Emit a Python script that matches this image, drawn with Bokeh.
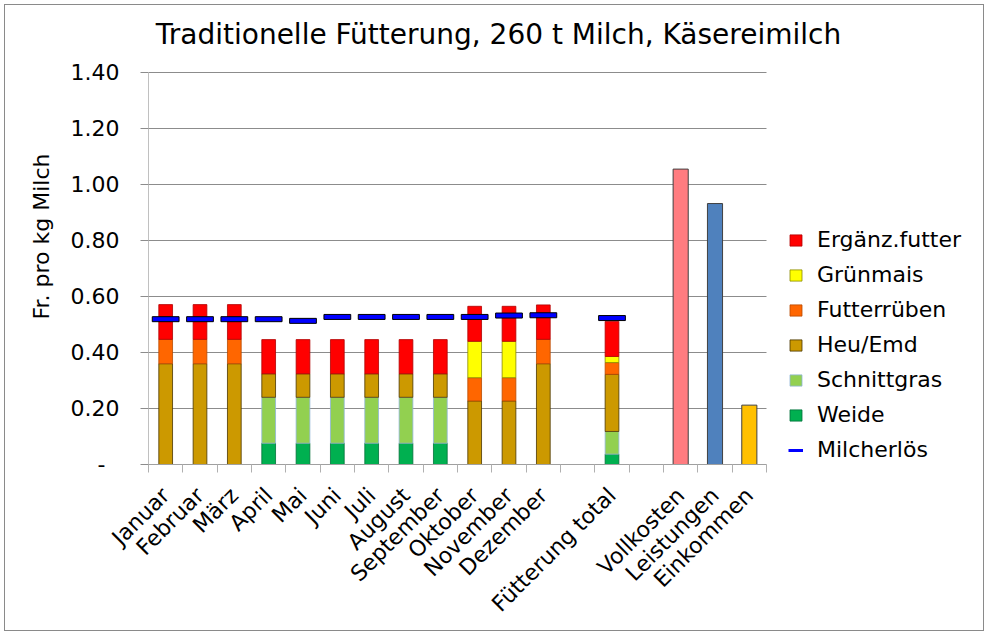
import math
from bokeh.plotting import figure
from bokeh.models import (ColumnDataSource, FixedTicker, CustomJSTickFormatter,
                          Legend, LegendItem, Range1d, Label)
from bokeh.embed import file_html
from bokeh.resources import INLINE

# ---------------- data ----------------
title_text = "Traditionelle Fütterung, 260 t Milch, Käsereimilch"
categories = ["Januar", "Februar", "März", "April", "Mai", "Juni", "Juli",
              "August", "September", "Oktober", "November", "Dezember", "",
              "Fütterung total", "", "Vollkosten", "Leistungen", "Einkommen"]

weide        = [0, 0, 0, 0.076, 0.076, 0.076, 0.076, 0.076, 0.076, 0, 0, 0, 0, 0.037, 0, 0, 0, 0]
schnittgras  = [0, 0, 0, 0.164, 0.164, 0.164, 0.164, 0.164, 0.164, 0, 0, 0, 0, 0.081, 0, 0, 0, 0]
heu_emd      = [0.360, 0.360, 0.360, 0.084, 0.084, 0.084, 0.084, 0.084, 0.084, 0.227, 0.227, 0.360, 0, 0.204, 0, 0, 0, 0]
futterrueben = [0.087, 0.087, 0.087, 0, 0, 0, 0, 0, 0, 0.083, 0.083, 0.087, 0, 0.042, 0, 0, 0, 0]
gruenmais    = [0, 0, 0, 0, 0, 0, 0, 0, 0, 0.130, 0.130, 0, 0, 0.022, 0, 0, 0, 0]
ergaenz      = [0.124, 0.124, 0.124, 0.122, 0.122, 0.122, 0.122, 0.122, 0.122, 0.125, 0.125, 0.123, 0, 0.125, 0, 0, 0, 0]

vollkosten   = [0] * 15 + [1.055, 0, 0]
leistungen   = [0] * 16 + [0.932, 0]
einkommen    = [0] * 17 + [0.212]

milcherloes  = [0.519, 0.519, 0.519, 0.519, 0.513, 0.527, 0.527, 0.527, 0.527,
                0.527, 0.532, 0.533, None, 0.523, None, None, None, None]

y_ticks = [0, 0.2, 0.4, 0.6, 0.8, 1.0, 1.2, 1.4]

stack_series = [
    ("Weide", weide, "#00B050", "#00703a"),
    ("Schnittgras", schnittgras, "#92D050", "#8fb4d8"),
    ("Heu/Emd", heu_emd, "#CC9900", "#4a3600"),
    ("Futterrüben", futterrueben, "#FF6600", "#b84a00"),
    ("Grünmais", gruenmais, "#FFFF00", "#8a8a00"),
    ("Ergänz.futter", ergaenz, "#FF0000", "#b00000"),
]
single_series = [
    (vollkosten, "#FF7C80"),
    (leistungen, "#4F81BD"),
    (einkommen, "#FFC000"),
]

FONT = "DejaVu Sans"
n = len(categories)
xpos = [i + 0.5 for i in range(n)]
y_max = y_ticks[-1]

# ---------------- layout (pixels) ----------------
# The frame is extended to the right (legend) and upwards (title) so that
# both lie inside it; the category/value area itself is 618 x 392 px.
FIG_W, FIG_H = 980, 627
LEFT, RIGHT, TOP, BOTTOM = 143, 3, 3, 168
bar_area_w, bar_area_h = 618, 392
frame_w = FIG_W - LEFT - RIGHT
frame_h = FIG_H - TOP - BOTTOM
x_end = n * frame_w / bar_area_w
y_end = y_max * frame_h / bar_area_h
px_x = n / bar_area_w          # data units per pixel (x)
px_y = y_max / bar_area_h      # data units per pixel (y)

p = figure(width=FIG_W, height=FIG_H, output_backend="svg", toolbar_location=None,
           x_range=Range1d(0, x_end), y_range=Range1d(0, y_end),
           min_border_left=LEFT, min_border_right=RIGHT,
           min_border_top=TOP, min_border_bottom=BOTTOM)
p.outline_line_color = None
p.background_fill_color = "white"
p.border_fill_color = "white"
p.styles = {"border": "1px solid #8a8a8a", "margin": "4px"}

# title (centred on the whole chart, 430 px above the value axis origin)
p.add_layout(Label(x=350 * px_x, y=430 * px_y, text=title_text,
                   text_align="center", text_baseline="middle",
                   text_font=FONT, text_font_size="28px", text_color="black"))

# horizontal grid lines limited to the category area
p.xgrid.visible = False
p.ygrid.visible = False
p.segment(x0=[0] * len(y_ticks), x1=[n] * len(y_ticks), y0=y_ticks, y1=y_ticks,
          line_color="#8c8c8c", line_width=1)

# stacked bars
renderers = {}
bottoms = [0.0] * n
for name, vals, fill, line in stack_series:
    xs, bs, ts = [], [], []
    for i, v in enumerate(vals):
        if v:
            xs.append(xpos[i]); bs.append(bottoms[i]); ts.append(bottoms[i] + v)
            bottoms[i] += v
    src = ColumnDataSource(dict(x=xs, bottom=bs, top=ts))
    r = p.vbar(x="x", bottom="bottom", top="top", width=0.4, source=src,
               fill_color=fill, line_color=line, line_width=1, line_alpha=0.8)
    renderers[name] = r

for vals, fill in single_series:
    xs = [xpos[i] for i, v in enumerate(vals) if v]
    ts = [v for v in vals if v]
    src = ColumnDataSource(dict(x=xs, top=ts))
    p.vbar(x="x", top="top", bottom=0, width=0.44, source=src,
           fill_color=fill, line_color="#404040", line_width=1)

# Milcherlös dashes
mx = [xpos[i] for i, v in enumerate(milcherloes) if v is not None]
my = [v for v in milcherloes if v is not None]
msrc = ColumnDataSource(dict(x=mx, y=my))
p.rect(x="x", y="y", width=0.78, height=5, height_units="screen", source=msrc,
       fill_color="#0000FF", line_color="#000000", line_width=1)
# single-point line: invisible in the plot, used as the legend glyph
leg_line = p.line(x=mx[:1], y=my[:1], line_color="#0000FF", line_width=3)

# axes
yax = p.yaxis[0]
yax.bounds = (0, y_max)
yax.ticker = FixedTicker(ticks=y_ticks)
yax.formatter = CustomJSTickFormatter(code="return tick < 1e-9 ? '-\u00a0\u00a0' : tick.toFixed(2);")
yax.major_tick_out = 8
yax.major_tick_in = 0
yax.major_tick_line_color = "#8c8c8c"
yax.minor_tick_line_color = None
yax.axis_line_color = "#c0c0c0"
yax.major_label_text_font = FONT
yax.major_label_text_font_size = "22px"
yax.major_label_text_color = "black"
yax.major_label_standoff = 21
yax.axis_label = "Fr. pro kg Milch"
yax.axis_label_text_font = FONT
yax.axis_label_text_font_size = "22px"
yax.axis_label_text_font_style = "normal"
yax.axis_label_text_color = "black"
yax.axis_label_standoff = 14

xax = p.xaxis[0]
xax.bounds = (0, n)
xax.ticker = FixedTicker(ticks=xpos, minor_ticks=list(range(n + 1)))
xax.formatter = CustomJSTickFormatter(args=dict(labels=categories),
                                      code="return labels[Math.floor(tick)];")
xax.major_tick_line_color = None
xax.minor_tick_out = 8
xax.minor_tick_in = 0
xax.minor_tick_line_color = "#b0b0b0"
xax.axis_line_color = "#a0a0a0"
xax.major_label_orientation = math.pi / 4
xax.major_label_text_font = FONT
xax.major_label_text_font_size = "22px"
xax.major_label_text_color = "black"
xax.major_label_standoff = 19

# legend (inside the extended frame, right of the bars)
items = [LegendItem(label=name, renderers=[renderers[name]])
         for name in ["Ergänz.futter", "Grünmais", "Futterrüben", "Heu/Emd", "Schnittgras", "Weide"]]
items.append(LegendItem(label="Milcherlös", renderers=[leg_line]))
legend = Legend(items=items, location=(bar_area_w + 22, -3))
legend.padding = 0
legend.margin = 0
legend.border_line_color = None
legend.background_fill_alpha = 0
legend.glyph_height = 14
legend.glyph_width = 15
legend.label_height = 35
legend.spacing = 0
legend.label_standoff = 14
legend.label_text_font = FONT
legend.label_text_font_size = "22px"
legend.label_text_color = "black"
legend.label_text_baseline = "middle"
p.add_layout(legend)

open("out.html", "w").write(file_html(p, INLINE))
